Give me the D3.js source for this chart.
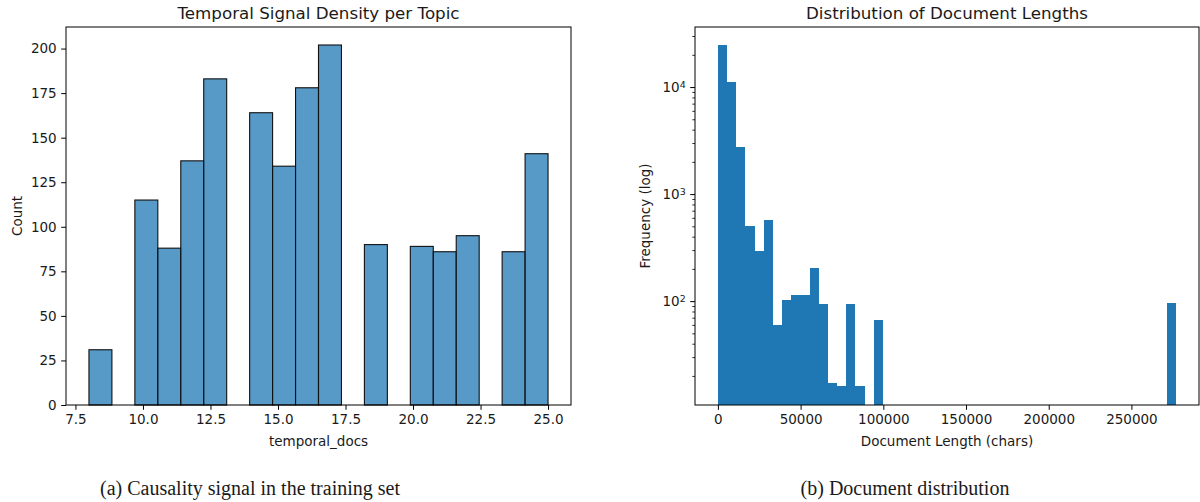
<!DOCTYPE html>
<html>
<head>
<meta charset="utf-8">
<script src="https://cdn.jsdelivr.net/npm/d3@7"></script>
<style>
  html, body { margin: 0; padding: 0; background: #fff; }
  svg { display: block; }
  text { fill: #1a1a1a; }
</style>
</head>
<body>
<svg id="chart" width="1200" height="502"></svg>
<script>
// ---------- Data: left panel (temporal signal density per topic) ----------
const temporalEdges = [8.00, 8.85, 9.70, 10.55, 11.40, 12.25, 13.10, 13.95, 14.80, 15.65,
  16.50, 17.35, 18.20, 19.05, 19.90, 20.75, 21.60, 22.45, 23.30, 24.15, 25.00];
const temporalCounts = [31, 0, 115, 88, 137, 183, 0, 164, 134, 178,
  202, 0, 90, 0, 89, 86, 95, 0, 86, 141];
const temporalXTicks = [7.5, 10.0, 12.5, 15.0, 17.5, 20.0, 22.5, 25.0];
const temporalYTicks = [0, 25, 50, 75, 100, 125, 150, 175, 200];

// ---------- Data: right panel (document length distribution) ----------
const docEdges = [0, 5540, 11080, 16620, 22160, 27700, 33240, 38780, 44320, 49860,
  55400, 60940, 66480, 72020, 77560, 83100, 88640, 94180, 99720, 105260,
  110800, 116340, 121880, 127420, 132960, 138500, 144040, 149580, 155120, 160660,
  166200, 171740, 177280, 182820, 188360, 193900, 199440, 204980, 210520, 216060,
  221600, 227140, 232680, 238220, 243760, 249300, 254840, 260380, 265920, 271460, 277000];
const docCounts = [24850, 11140, 2730, 498, 291, 571, 60, 103, 113, 113,
  203, 94, 17, 16, 94, 16, 0, 66, 0, 0,
  0, 0, 0, 0, 0, 0, 0, 0, 0, 0,
  0, 0, 0, 0, 0, 0, 0, 0, 0, 0,
  0, 0, 0, 0, 0, 0, 0, 0, 0, 97];
const docXTicks = [0, 50000, 100000, 150000, 200000, 250000];
const docYMajor = [100, 1000, 10000];
const docYMinor = [20, 30, 40, 50, 60, 70, 80, 90, 200, 300, 400, 500, 600, 700, 800, 900,
  2000, 3000, 4000, 5000, 6000, 7000, 8000, 9000, 20000, 30000];

// ---------- Layout ----------
const FONT = "'DejaVu Sans', sans-serif";
const TICK_FS = 13.5, LABEL_FS = 13.5, TITLE_FS = 16.7, CAP_FS = 20;
const svg = d3.select("#chart");

const L = { x0: 66, x1: 571, y0: 27, y1: 405 };
const R = { x0: 695, x1: 1199, y0: 27, y1: 405 };

function drawFrame(g, box) {
  g.append("rect")
    .attr("x", box.x0).attr("y", box.y0)
    .attr("width", box.x1 - box.x0).attr("height", box.y1 - box.y0)
    .attr("fill", "none").attr("stroke", "#000").attr("stroke-width", 1);
}
function styleAxis(sel) {
  sel.selectAll(".domain").remove();
  sel.selectAll(".tick line").attr("stroke", "#000").attr("stroke-width", 1);
  sel.selectAll(".tick text").attr("font-family", FONT).attr("font-size", TICK_FS).attr("fill", "#1a1a1a");
}

// ---------- Left panel ----------
{
  const g = svg.append("g");
  const x = d3.scaleLinear().domain([7.15, 25.85]).range([L.x0, L.x1]);
  const y = d3.scaleLinear().domain([0, 212.1]).range([L.y1, L.y0]);

  const bins = temporalCounts.map((c, i) => ({ x0: temporalEdges[i], x1: temporalEdges[i + 1], c }));
  g.selectAll("rect.bar").data(bins.filter(d => d.c > 0)).join("rect")
    .attr("class", "bar")
    .attr("x", d => x(d.x0)).attr("width", d => x(d.x1) - x(d.x0))
    .attr("y", d => y(d.c)).attr("height", d => y(0) - y(d.c))
    .attr("fill", "#1f77b4").attr("fill-opacity", 0.75)
    .attr("stroke", "#111").attr("stroke-width", 1.1);

  drawFrame(g, L);

  const xa = g.append("g").attr("transform", `translate(0,${L.y1})`)
    .call(d3.axisBottom(x).tickValues(temporalXTicks).tickFormat(d3.format(".1f")).tickSize(4.8).tickPadding(4.5));
  styleAxis(xa);
  const ya = g.append("g").attr("transform", `translate(${L.x0},0)`)
    .call(d3.axisLeft(y).tickValues(temporalYTicks).tickFormat(d3.format("d")).tickSize(4.8).tickPadding(4.5));
  styleAxis(ya);

  g.append("text").attr("x", (L.x0 + L.x1) / 2).attr("y", 19)
    .attr("text-anchor", "middle").attr("font-family", FONT).attr("font-size", TITLE_FS)
    .text("Temporal Signal Density per Topic");
  g.append("text").attr("x", (L.x0 + L.x1) / 2).attr("y", 446)
    .attr("text-anchor", "middle").attr("font-family", FONT).attr("font-size", LABEL_FS)
    .text("temporal_docs");
  g.append("text").attr("transform", `translate(22,${(L.y0 + L.y1) / 2}) rotate(-90)`)
    .attr("text-anchor", "middle").attr("font-family", FONT).attr("font-size", LABEL_FS)
    .text("Count");
  g.append("text").attr("x", 250).attr("y", 495)
    .attr("text-anchor", "middle").attr("font-family", "'Liberation Serif', 'Times New Roman', serif")
    .attr("font-size", CAP_FS).attr("fill", "#000")
    .text("(a) Causality signal in the training set");
}

// ---------- Right panel ----------
{
  const g = svg.append("g");
  const x = d3.scaleLinear().domain([-13850, 290850]).range([R.x0, R.x1]);
  const y = d3.scaleLog().domain([10.7, 36400]).range([R.y1, R.y0]);

  const bins = docCounts.map((c, i) => ({ x0: docEdges[i], x1: docEdges[i + 1], c }));
  g.selectAll("rect.bar").data(bins.filter(d => d.c > 0)).join("rect")
    .attr("class", "bar")
    .attr("x", d => x(d.x0)).attr("width", d => x(d.x1) - x(d.x0))
    .attr("y", d => y(d.c)).attr("height", d => R.y1 - y(d.c))
    .attr("fill", "#1f77b4")
    .attr("shape-rendering", "crispEdges");

  drawFrame(g, R);

  const xa = g.append("g").attr("transform", `translate(0,${R.y1})`)
    .call(d3.axisBottom(x).tickValues(docXTicks).tickFormat(d3.format("d")).tickSize(4.8).tickPadding(4.5));
  styleAxis(xa);

  const ya = g.append("g").attr("transform", `translate(${R.x0},0)`)
    .call(d3.axisLeft(y).tickValues(docYMajor).tickFormat("").tickSize(4.8).tickPadding(4.5));
  styleAxis(ya);
  ya.selectAll(".tick text").each(function(d) {
    const t = d3.select(this);
    const exp = Math.round(Math.log10(d));
    t.text(null);
    t.append("tspan").text("10");
    t.append("tspan").attr("dy", "-0.45em").attr("font-size", TICK_FS * 0.7).text(exp);
  });
  const ym = g.append("g").attr("transform", `translate(${R.x0},0)`)
    .call(d3.axisLeft(y).tickValues(docYMinor).tickFormat("").tickSize(2.7));
  styleAxis(ym);
  ym.selectAll(".tick line").attr("stroke-width", 0.8);

  g.append("text").attr("x", (R.x0 + R.x1) / 2).attr("y", 19)
    .attr("text-anchor", "middle").attr("font-family", FONT).attr("font-size", TITLE_FS)
    .text("Distribution of Document Lengths");
  g.append("text").attr("x", (R.x0 + R.x1) / 2).attr("y", 446)
    .attr("text-anchor", "middle").attr("font-family", FONT).attr("font-size", LABEL_FS)
    .text("Document Length (chars)");
  g.append("text").attr("transform", `translate(650,${(R.y0 + R.y1) / 2}) rotate(-90)`)
    .attr("text-anchor", "middle").attr("font-family", FONT).attr("font-size", LABEL_FS)
    .text("Frequency (log)");
  g.append("text").attr("x", 905).attr("y", 495)
    .attr("text-anchor", "middle").attr("font-family", "'Liberation Serif', 'Times New Roman', serif")
    .attr("font-size", CAP_FS).attr("fill", "#000")
    .text("(b) Document distribution");
}
</script>
</body>
</html>
